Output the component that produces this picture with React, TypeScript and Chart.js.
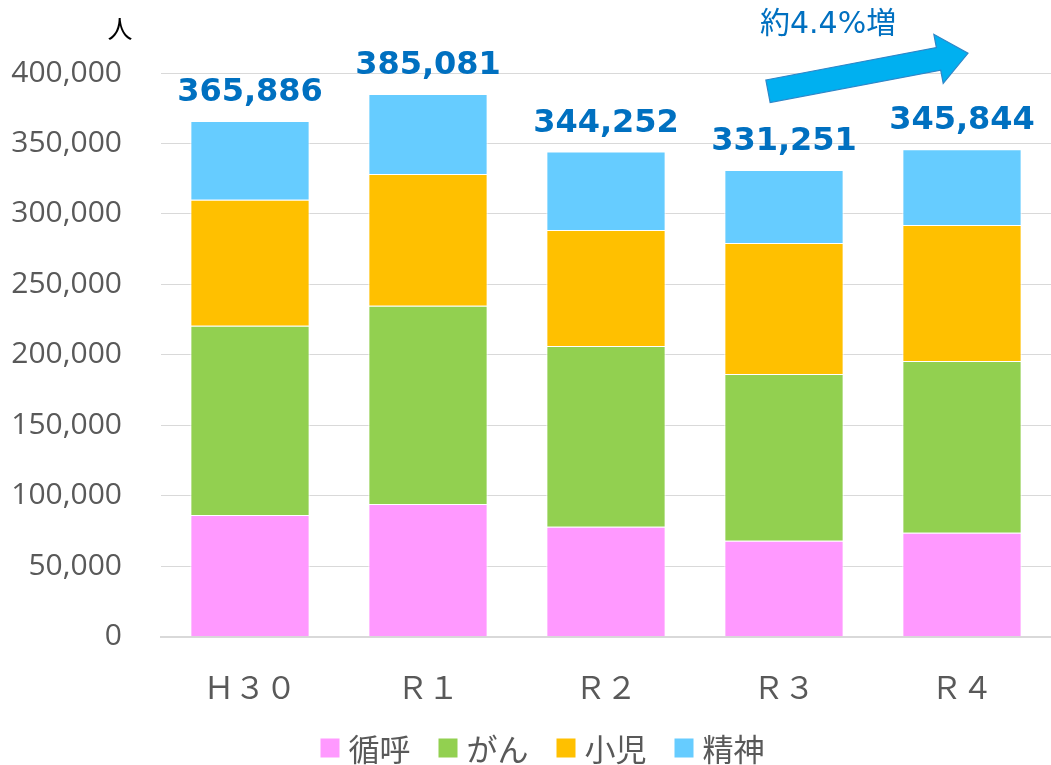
import React, { useEffect, useRef } from "react";
import { Chart, registerables } from "chart.js";

Chart.register(...registerables);

const categories = ["Ｈ３０", "Ｒ１", "Ｒ２", "Ｒ３", "Ｒ４"];
const seriesNames = ["循呼", "がん", "小児", "精神"];
const junko = [86500, 94300, 78000, 68100, 73800];
const gan = [134100, 140500, 128400, 118400, 121900];
const shoni = [89400, 93600, 82300, 92900, 96500];
const seishin = [55886, 56681, 55552, 51851, 53644];
const totals = [365886, 385081, 344252, 331251, 345844];
const seriesColors = ["#FF99FF", "#92D050", "#FFC000", "#66CCFF"];
const yTicks = [0, 50000, 100000, 150000, 200000, 250000, 300000, 350000, 400000];
const unitLabel = "人";
const arrowLabel = "約4.4%増";

const overlayPlugin = {
  id: "overlay",
  afterDraw(chart: any) {
    const ctx = chart.ctx;
    const xs = chart.scales.x;
    const ys = chart.scales.y;
    const area = chart.chartArea;
    ctx.save();
    // totals
    ctx.fillStyle = "#0070C0";
    ctx.font = "bold 32px 'DejaVu Sans', sans-serif";
    ctx.textAlign = "center";
    ctx.textBaseline = "alphabetic";
    totals.forEach((t, i) => {
      const x = xs.getPixelForValue(i);
      const y = ys.getPixelForValue(t);
      ctx.fillText(t.toLocaleString("en-US"), x, y - 20);
    });
    // unit label
    ctx.fillStyle = "#000000";
    ctx.font = "25px 'Noto Sans CJK JP', sans-serif";
    ctx.textAlign = "center";
    ctx.textBaseline = "middle";
    ctx.fillText(unitLabel, area.left - 41, area.top - 45);
    // legend
    ctx.font = "31px 'Noto Sans CJK JP', sans-serif";
    ctx.textBaseline = "middle";
    ctx.textAlign = "left";
    const box = 19;
    const gapText = 9;
    const gapItem = 28;
    const widths = chart.data.datasets.map((d: any) => box + gapText + ctx.measureText(d.label).width);
    const total = widths.reduce((a: number, b: number) => a + b, 0) + gapItem * (widths.length - 1);
    let lx = chart.width / 2 + 17 - total / 2;
    const ly = 748;
    chart.data.datasets.forEach((d: any, i: number) => {
      ctx.fillStyle = d.backgroundColor;
      ctx.fillRect(lx, ly - box / 2, box, box);
      ctx.fillStyle = "#595959";
      ctx.fillText(d.label, lx + box + gapText, ly + 1);
      lx += widths[i] + gapItem;
    });
    // arrow
    const x0 = xs.getPixelForValue(3) - 16;
    const y0 = ys.getPixelForValue(387000);
    const x1 = xs.getPixelForValue(4) + 6;
    const y1 = ys.getPixelForValue(414000);
    const dx = x1 - x0;
    const dy = y1 - y0;
    const L = Math.sqrt(dx * dx + dy * dy);
    const ang = Math.atan2(dy, dx);
    const sh = 11.5;
    const hl = 30;
    const hw = 25;
    ctx.translate(x0, y0);
    ctx.rotate(ang);
    ctx.beginPath();
    ctx.moveTo(0, -sh);
    ctx.lineTo(L - hl, -sh);
    ctx.lineTo(L - hl, -hw);
    ctx.lineTo(L, 0);
    ctx.lineTo(L - hl, hw);
    ctx.lineTo(L - hl, sh);
    ctx.lineTo(0, sh);
    ctx.closePath();
    ctx.fillStyle = "#00B0F0";
    ctx.fill();
    ctx.strokeStyle = "#2E86C8";
    ctx.lineWidth = 1.2;
    ctx.stroke();
    ctx.setTransform(1, 0, 0, 1, 0, 0);
    // arrow text
    ctx.fillStyle = "#0070C0";
    ctx.font = "30px 'DejaVu Sans', 'Noto Sans CJK JP', sans-serif";
    ctx.textAlign = "left";
    ctx.textBaseline = "middle";
    ctx.fillText(arrowLabel, xs.getPixelForValue(3) - 24, ys.getPixelForValue(434000));
    ctx.restore();
  },
};

export default function App() {
  const ref = useRef<HTMLCanvasElement | null>(null);
  useEffect(() => {
    if (!ref.current) return;
    const values = [junko, gan, shoni, seishin];
    const chart = new Chart(ref.current, {
      type: "bar",
      data: {
        labels: categories,
        datasets: values.map((v, i) => ({
          label: seriesNames[i],
          data: v,
          backgroundColor: seriesColors[i],
          borderColor: "#FFFFFF",
          borderWidth: 1,
          categoryPercentage: 1,
          barPercentage: 0.67,
        })),
      },
      options: {
        responsive: false,
        animation: false,
        layout: { padding: { top: 73, left: 11, right: 0, bottom: 27 } },
        plugins: {
          legend: { display: false },
          tooltip: { enabled: false },
        },
        scales: {
          x: {
            stacked: true,
            grid: { display: false, drawTicks: false },
            border: { display: true, color: "#D9D9D9", width: 2 },
            ticks: {
              color: "#595959",
              padding: 32,
              font: { size: 31, family: "'Noto Sans CJK JP', sans-serif" },
            },
          },
          y: {
            stacked: true,
            min: 0,
            max: 400000,
            afterBuildTicks: (axis: any) => {
              axis.ticks = yTicks.map((v) => ({ value: v }));
            },
            afterFit: (axis: any) => {
              axis.width = 150;
            },
            grid: { color: "#D9D9D9", drawTicks: false, lineWidth: 1 },
            border: { display: false },
            ticks: {
              color: "#595959",
              padding: 39,
              font: { size: 30, family: "'Open Sans', sans-serif" },
              callback: (v: any) => Number(v).toLocaleString("en-US"),
            },
          },
        },
      },
      plugins: [overlayPlugin],
    });
    return () => chart.destroy();
  }, []);
  return (
    <div style={{ position: "absolute", left: 0, top: 0, width: 1051, height: 765, background: "#fff" }}>
      <canvas ref={ref} width={1051} height={765} />
    </div>
  );
}
